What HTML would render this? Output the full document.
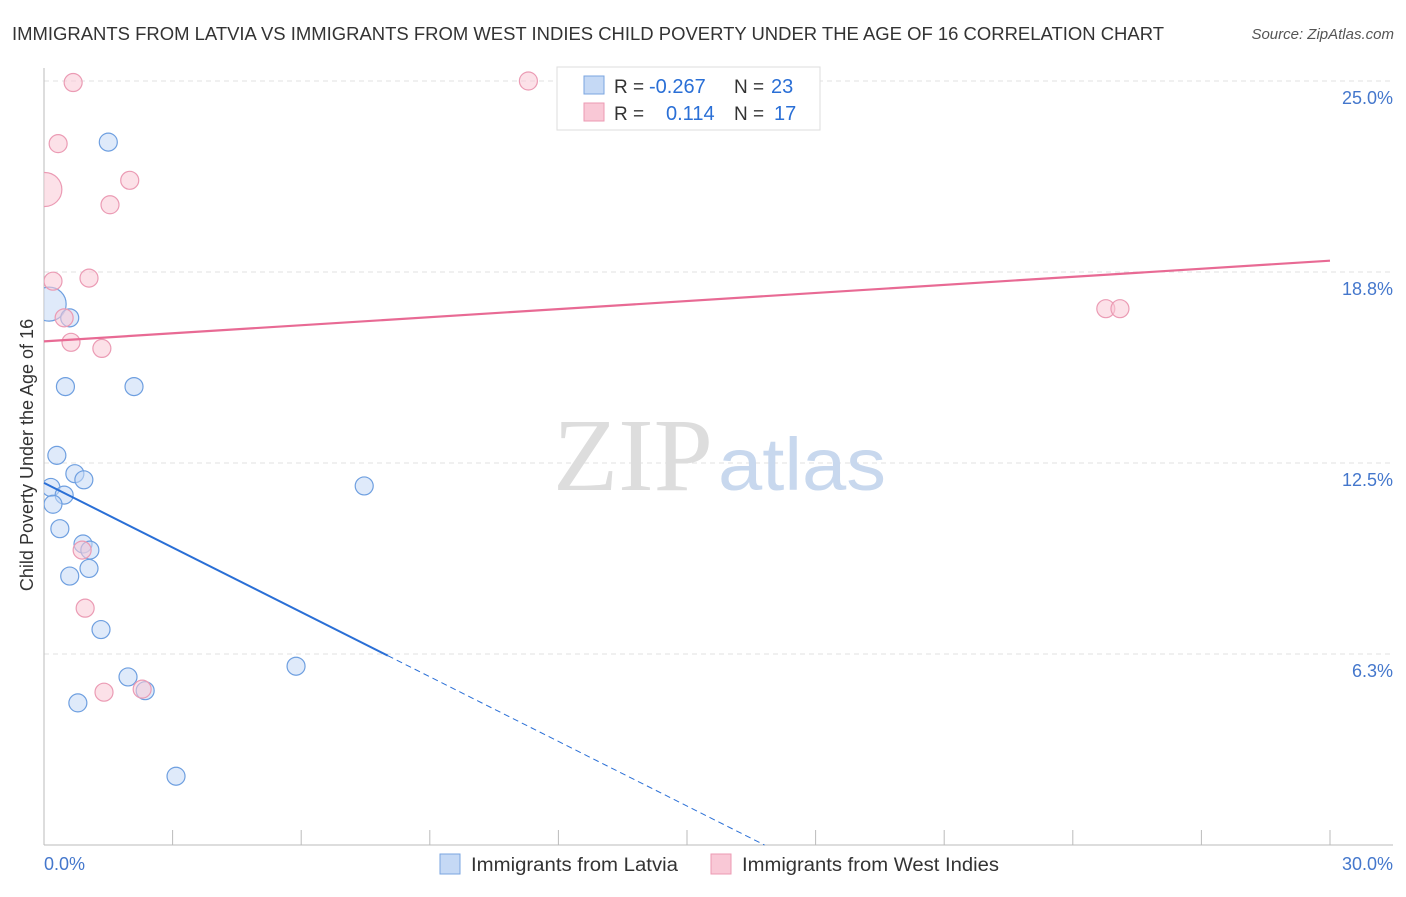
<!DOCTYPE html>
<html><head><meta charset="utf-8"><style>
body{margin:0;background:#fff;font-family:"Liberation Sans",sans-serif;}
</style></head><body>
<svg width="1406" height="892" xmlns="http://www.w3.org/2000/svg" font-family="Liberation Sans, sans-serif">
<text x="12" y="40" font-size="18" fill="#333" textLength="1152" lengthAdjust="spacingAndGlyphs">IMMIGRANTS FROM LATVIA VS IMMIGRANTS FROM WEST INDIES CHILD POVERTY UNDER THE AGE OF 16 CORRELATION CHART</text>
<text x="1394" y="39" font-size="15" fill="#555" font-style="italic" text-anchor="end">Source: ZipAtlas.com</text>
<g id="grid"></g>
<text x="553" y="490" font-size="104" fill="#ddd" font-family="Liberation Serif, serif" textLength="160" lengthAdjust="spacingAndGlyphs">ZIP</text>
<text x="718" y="490" font-size="74" fill="#c8d8ee" textLength="168" lengthAdjust="spacingAndGlyphs">atlas</text>
<text transform="translate(33,455) rotate(-90)" font-size="18" fill="#333" text-anchor="middle">Child Poverty Under the Age of 16</text>
<text x="44" y="870" font-size="18" fill="#4477cc">0.0%</text>
<text x="1393" y="870" font-size="18" fill="#4477cc" text-anchor="end">30.0%</text>
<g id="plot"></g>
<g>
<rect x="557" y="67" width="263" height="63" fill="#fff" stroke="#ddd"/>
<rect x="584" y="76" width="20" height="18" fill="#c5d9f5" stroke="#7aa5e0"/>
<rect x="584" y="103" width="20" height="18" fill="#f9c8d6" stroke="#ec9ab3"/>
<text x="614" y="93" font-size="19" fill="#333">R =</text>
<text x="649" y="93" font-size="20" fill="#2a6fd6">-0.267</text>
<text x="734" y="93" font-size="19" fill="#333">N =</text>
<text x="771" y="93" font-size="20" fill="#2a6fd6">23</text>
<text x="614" y="120" font-size="19" fill="#333">R =</text>
<text x="666" y="120" font-size="20" fill="#2a6fd6">0.114</text>
<text x="734" y="120" font-size="19" fill="#333">N =</text>
<text x="774" y="120" font-size="20" fill="#2a6fd6">17</text>
</g>
<g>
<rect x="440" y="854" width="20" height="20" fill="#c5d9f5" stroke="#7aa5e0"/>
<text x="471" y="871" font-size="19" fill="#333" textLength="207" lengthAdjust="spacingAndGlyphs">Immigrants from Latvia</text>
<rect x="711" y="854" width="20" height="20" fill="#f9c8d6" stroke="#ec9ab3"/>
<text x="742" y="871" font-size="19" fill="#333" textLength="257" lengthAdjust="spacingAndGlyphs">Immigrants from West Indies</text>
</g>
</svg>
<script>
const yTicks=[6.25,12.5,18.75,25];
const yTickLabels=["6.3%","12.5%","18.8%","25.0%"];
const xTicks=[0,3,6,9,12,15,18,21,24,27,30];
const latviaX=[0.12,1.5,0.6,0.5,2.1,0.3,0.72,0.93,0.16,7.47,0.47,0.21,0.37,0.91,1.07,1.05,0.6,1.33,5.88,1.96,2.36,0.79,3.08];
const latviaY=[17.7,23.0,17.25,15.0,15.0,12.75,12.15,11.95,11.7,11.75,11.45,11.15,10.35,9.85,9.65,9.05,8.8,7.05,5.85,5.5,5.05,4.65,2.25];
const latviaR=[17,9,9,9,9,9,9,9,9,9,9,9,9,9,9,9,9,9,9,9,9,9,9];
const wiX=[0.68,11.3,0.33,2.0,0.02,1.54,0.21,1.05,0.47,24.77,25.1,0.63,1.35,0.89,0.96,1.4,2.29];
const wiY=[24.95,25.0,22.95,21.75,21.45,20.95,18.45,18.55,17.25,17.55,17.55,16.45,16.25,9.65,7.75,5.0,5.1];
const wiR=[9,9,9,9,17,9,9,9,9,9,9,9,9,9,9,9,9];
const blueLine=[11.85,-0.705]; // intercept, slope
const pinkLine=[16.48,0.088];
const X=v=>44+v*1286/30, Y=v=>845-v*30.56;
const NS="http://www.w3.org/2000/svg";
function mk(p,t,a){const e=document.createElementNS(NS,t);for(const k in a)e.setAttribute(k,a[k]);p.appendChild(e);return e;}
const g=document.getElementById('grid'), p=document.getElementById('plot');
yTicks.forEach((t,i)=>{
 const l=mk(g,'line',{x1:44,x2:1393,y1:Y(t),y2:Y(t),stroke:'#e2e2e2','stroke-dasharray':'5,4'});
 
 
 const tx=mk(g,'text',{x:1393,y:Y(t)+23,'font-size':18,fill:'#4477cc','text-anchor':'end'});tx.textContent=yTickLabels[i];
 
 
});
xTicks.forEach(t=>{const l=mk(g,'line',{x1:X(t),x2:X(t),y1:830,y2:845,stroke:'#bbb'});
 
 });
const ax=mk(g,'line',{x1:44,x2:1393,y1:845,y2:845,stroke:'#bbb'});


const ay=mk(g,'line',{x1:44,x2:44,y1:68,y2:845,stroke:'#bbb'});


mk(p,'clipPath',{id:'cp'}).appendChild(document.createElementNS(NS,'rect'));
const cr=document.querySelector('#cp rect');cr.setAttribute('x',44);cr.setAttribute('y',60);cr.setAttribute('width',1360);cr.setAttribute('height',785);
const pts=mk(p,'g',{'clip-path':'url(#cp)'});
function dots(xs,ys,rs,fill,stroke,name){xs.forEach((x,i)=>{const c=mk(pts,'circle',{cx:X(x),cy:Y(ys[i]),r:rs[i],fill:fill,stroke:stroke,'stroke-width':1.2,'fill-opacity':0.55});
 
 });}
dots(latviaX,latviaY,latviaR,'#c5d9f5','#6e9fe0','latvia-point');
dots(wiX,wiY,wiR,'#f9c8d6','#eb9bb4','west-indies-point');
const bx1=8.02, bx2=(0-blueLine[0])/blueLine[1];
const b1=mk(p,'line',{x1:X(0),y1:Y(blueLine[0]),x2:X(bx1),y2:Y(blueLine[0]+blueLine[1]*bx1),stroke:'#2a6fd6','stroke-width':2});


const b2=mk(p,'line',{x1:X(bx1),y1:Y(blueLine[0]+blueLine[1]*bx1),x2:X(bx2),y2:Y(0),stroke:'#2a6fd6','stroke-width':1,'stroke-dasharray':'6,4'});


const pl=mk(p,'line',{x1:X(0),y1:Y(pinkLine[0]),x2:X(30),y2:Y(pinkLine[0]+pinkLine[1]*30),stroke:'#e86a94','stroke-width':2.2});


</script>
</body></html>
